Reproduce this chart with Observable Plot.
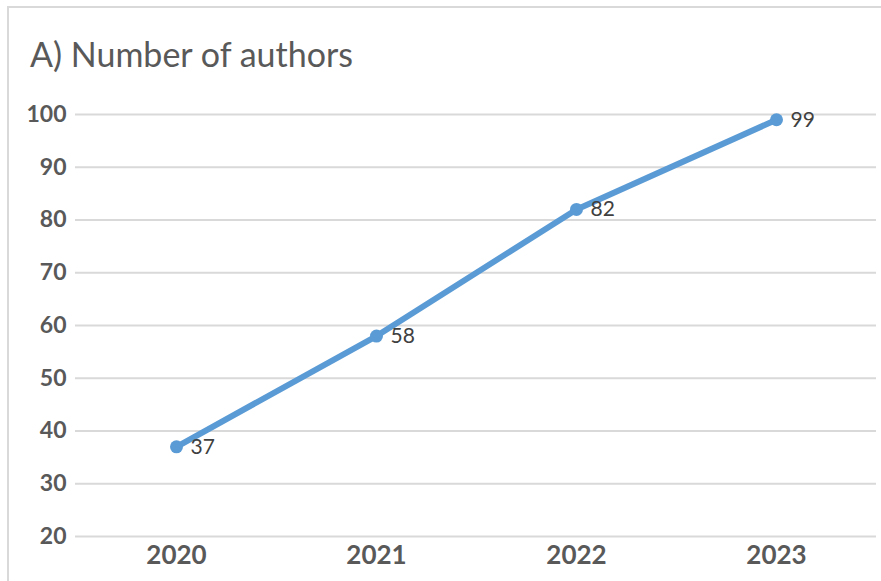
<!DOCTYPE html>
<html>
<head>
<meta charset="utf-8">
<script src="https://cdn.jsdelivr.net/npm/d3@7"></script>
<script src="https://cdn.jsdelivr.net/npm/@observablehq/plot@0.6"></script>
<style>
  html, body { margin: 0; padding: 0; background: #fff; overflow: hidden; }
  body { width: 881px; height: 581px; position: relative; font-family: Lato, "Open Sans", sans-serif; }
  #frame { position: absolute; left: 7px; top: 6px; width: 900px; height: 600px; border: 2px solid #d9d9d9; box-sizing: border-box; pointer-events: none; }
  #title { height: 95px; box-sizing: border-box; padding: 34px 0 0 30px; font-size: 34px; line-height: 40px; color: #595959; }
  #chart svg { display: block; }
</style>
</head>
<body>
<div id="frame"></div>
<div id="title">A) Number of authors</div>
<div id="chart"></div>
<script>
const years = ["2020", "2021", "2022", "2023"];
const authors = [37, 58, 82, 99];
const yTicks = [20, 30, 40, 50, 60, 70, 80, 90, 100];

const rows = years.map((year, i) => ({year, authors: authors[i]}));

const chart = Plot.plot({
  width: 881,
  height: 486,
  marginLeft: 75,
  marginRight: 5,
  marginTop: 19,
  marginBottom: 45,
  style: {fontFamily: "Lato, 'Open Sans', sans-serif", background: "#fff"},
  x: {type: "point", domain: years, padding: 0.5, label: null},
  y: {domain: [20, 100], label: null},
  marks: [
    Plot.gridY(yTicks, {stroke: "#d9d9d9", strokeOpacity: 1, strokeWidth: 2}),
    Plot.axisY(yTicks, {tickSize: 0, tickPadding: 9, fontSize: 23, fontWeight: "bold", fill: "#595959"}),
    Plot.axisX(years, {tickSize: 0, tickPadding: 9, fontSize: 26, fontWeight: "bold", fill: "#595959"}),
    Plot.line(rows, {x: "year", y: "authors", stroke: "#5b9bd5", strokeWidth: 6, strokeLinecap: "round"}),
    Plot.dot(rows, {x: "year", y: "authors", r: 6.5, fill: "#5b9bd5", stroke: null}),
    Plot.text(rows, {x: "year", y: "authors", text: d => String(d.authors), dx: 14, textAnchor: "start", fontSize: 21, fill: "#404040"})
  ]
});
document.getElementById("chart").appendChild(chart);
</script>
</body>
</html>
